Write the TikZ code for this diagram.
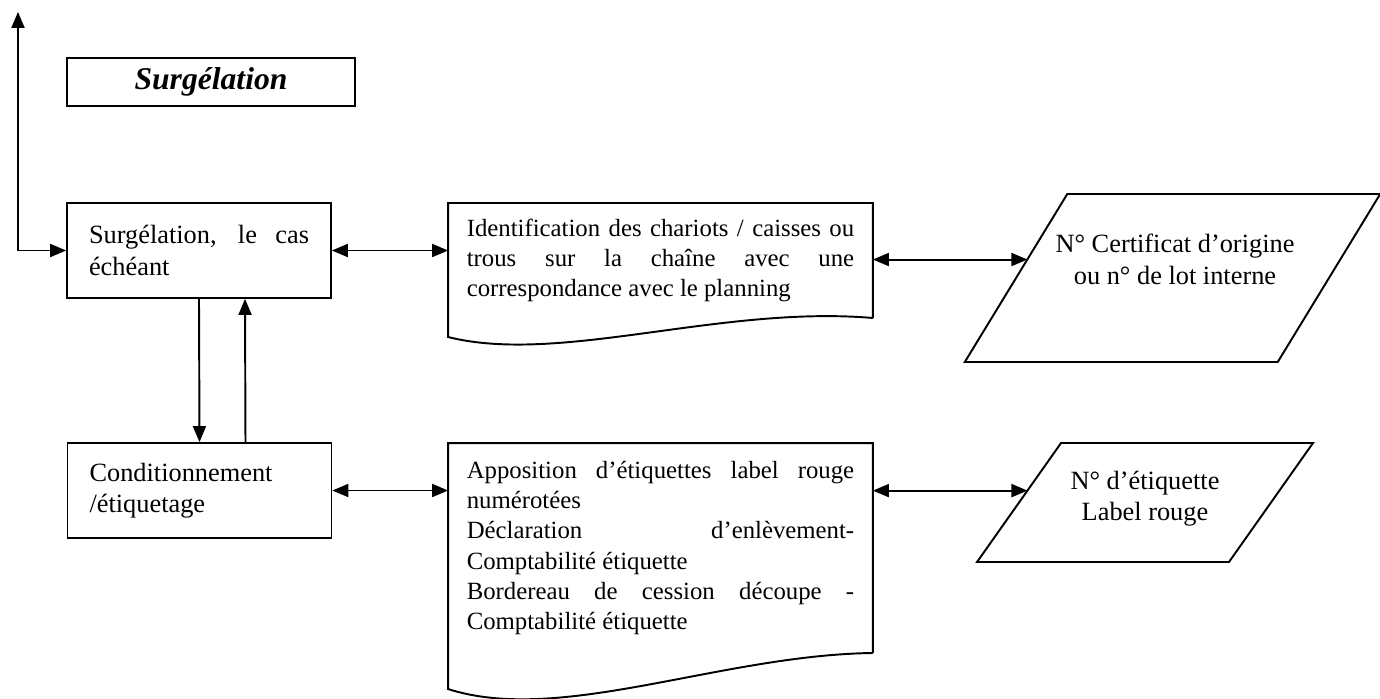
\documentclass[tikz,border=0pt]{standalone}
\usepackage{fontspec}
\setmainfont{Liberation Serif}
\usetikzlibrary{shapes,arrows,calc}

\begin{document}
\begin{tikzpicture}[x=0.02cm, y=-0.02cm, line width=1.1pt, >=triangle 45,
    box/.style={draw, rectangle, minimum width=5.28cm, minimum height=1.9cm, text width=4.4cm, inner xsep=0.44cm, align=justify, font=\fontsize{15}{17.8}\selectfont},
    doc/.style={rectangle, outer sep=0pt, minimum width=8.5cm, text width=7.75cm, inner xsep=0.375cm, align=justify, font=\fontsize{14.1}{17.3}\selectfont},
    para/.style={draw, rectangle, transform shape, inner sep=0pt, outer sep=0pt},
    txt/.style={align=center, font=\fontsize{15}{18}\selectfont}]

\useasboundingbox (0,0) rectangle (1380,698);

%\draw [color=black,thick](0,0) rectangle (1380,698);
\draw
    node at(211,82)[draw, minimum width=5.76cm, minimum height=0.96cm, font=\fontsize{18}{21}\selectfont\bfseries\itshape, name=titre]{Surgélation}

    node at(199,250.5)[box, name=surg]{Surgélation, le cas\linebreak échéant}
    node at(199.5,490.5)[box, name=cond]{Conditionnement\\/étiquetage}

    node at(660.5,260.5)[doc, minimum height=2.3cm, name=ident]{Identification des chariots / caisses ou\linebreak trous sur la chaîne avec une\linebreak correspondance avec le planning}
    node at(660.5,548)[doc, minimum height=4.2cm, name=appos]{Apposition d’étiquettes label rouge\linebreak numérotées\\Déclaration d’enlèvement-\linebreak Comptabilité étiquette\\Bordereau de cession découpe -\linebreak Comptabilité étiquette}

    node at(1172.5,278)[para, xslant=0.61, minimum width=6.26cm, minimum height=3.36cm, name=cert]{}
    node at(1175,259.5)[txt, name=certtxt]{N° Certificat d’origine\\ou n° de lot interne}

    node at(1145,502.5)[para, xslant=0.706, minimum width=5.04cm, minimum height=2.38cm, name=numlab]{}
    node at(1145,498.5)[txt, name=numtxt]{N° d’étiquette\\Label rouge}
;
    % document outlines
    \draw (ident.south east) -- (ident.north east) -- (ident.north west) -- ++(0,134) .. controls +(112,28) and +(-153,-13) .. (ident.south east);
    \draw (appos.south east) -- (appos.north east) -- (appos.north west) -- ++(0,246) .. controls +(112,36) and +(-153,2) .. (appos.south east);

    \coordinate (exit) at (18,12);
    \coordinate (certedge) at ($(cert.north west)!0.39!(cert.south west)$);
    \coordinate (numedge) at ($(numlab.north west)!0.40!(numlab.south west)$);

    \draw[<->](exit) |- (surg.west);
    \draw[<->](surg.east) -- (surg.east -| ident.west);
    \draw[<->](ident.east |- certedge) -- (certedge);

    \draw[->](surg.south) -- (cond.north);
    \draw[->]([xshift=0.92cm]cond.north) -- ([xshift=0.92cm]surg.south);

    \draw[<->](cond.east) -- (cond.east -| appos.west);
    \draw[<->](appos.east |- numedge) -- (numedge);

\end{tikzpicture}
\end{document}
